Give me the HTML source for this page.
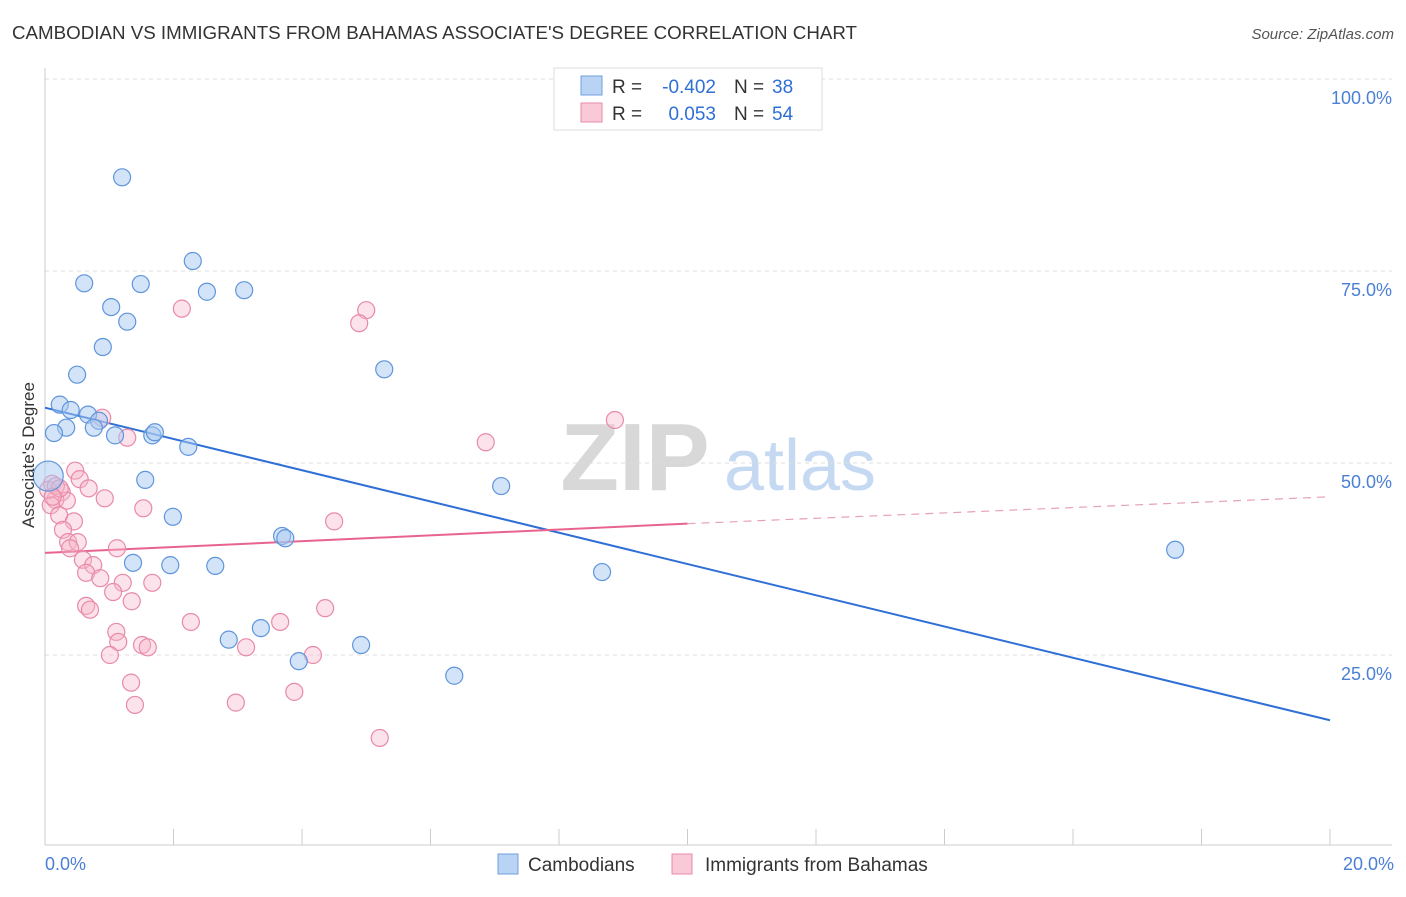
<!DOCTYPE html>
<html><head><meta charset="utf-8"><style>
body{margin:0;background:#fff;font-family:"Liberation Sans",sans-serif}
svg text{font-family:"Liberation Sans",sans-serif}
</style></head><body>
<svg id="chart" width="1406" height="892" viewBox="0 0 1406 892" xmlns="http://www.w3.org/2000/svg">
<text x="12" y="39" font-size="18" fill="#333" textLength="845" lengthAdjust="spacingAndGlyphs">CAMBODIAN VS IMMIGRANTS FROM BAHAMAS ASSOCIATE'S DEGREE CORRELATION CHART</text>
<text x="1394" y="39" font-size="15" fill="#555" text-anchor="end" font-style="italic">Source: ZipAtlas.com</text>
<g>
<text x="635" y="490" font-size="96" fill="#d8d8d8" text-anchor="middle" font-family="Liberation Serif,serif" font-weight="bold">ZIP</text>
<text x="800" y="490" font-size="72" fill="#c6d9f2" text-anchor="middle">atlas</text>
</g>
<g id="grid"></g><g id="axes"></g><g id="lines"></g><g id="points"></g>
<text transform="translate(34,455) rotate(-90)" font-size="17" fill="#333" text-anchor="middle">Associate's Degree</text>
<text x="45" y="870" font-size="18" fill="#4a7fd6">0.0%</text>
<text x="1394" y="870" font-size="18" fill="#4a7fd6" text-anchor="end">20.0%</text>
<g>
<rect x="554" y="68" width="268" height="62" fill="#fff" stroke="#ddd"/>
<rect x="581" y="76" width="21" height="19" fill="#b9d3f5" stroke="#6fa0e0"/>
<rect x="581" y="103" width="21" height="19" fill="#f9c9d8" stroke="#e88aa8"/>
<text x="612" y="93" font-size="19" fill="#333">R =</text>
<text x="716" y="93" font-size="19" fill="#2f6fd6" text-anchor="end">-0.402</text>
<text x="734" y="93" font-size="19" fill="#333">N =</text>
<text x="772" y="93" font-size="19" fill="#2f6fd6">38</text>
<text x="612" y="120" font-size="19" fill="#333">R =</text>
<text x="716" y="120" font-size="19" fill="#2f6fd6" text-anchor="end">0.053</text>
<text x="734" y="120" font-size="19" fill="#333">N =</text>
<text x="772" y="120" font-size="19" fill="#2f6fd6">54</text>
</g>
<g>
<rect x="498" y="854" width="20" height="20" fill="#b9d3f5" stroke="#6fa0e0"/>
<text x="528" y="871" font-size="19" fill="#333">Cambodians</text>
<rect x="672" y="854" width="20" height="20" fill="#f9c9d8" stroke="#e88aa8"/>
<text x="705" y="871" font-size="19" fill="#333">Immigrants from Bahamas</text>
</g>
</svg>
<script>
const yTicks=[25,50,75,100];
const yTickLabels=["25.0%","50.0%","75.0%","100.0%"];
const xTicks=[0,2,4,6,8,10,12,14,16,18,20];
const blueX=[1.20,2.30,0.61,1.49,2.52,3.10,1.03,1.28,0.90,0.50,5.28,0.23,0.40,0.67,0.84,0.76,0.33,0.14,1.09,1.67,1.71,2.23,0.05,1.56,7.10,1.99,3.69,3.74,1.37,1.95,2.65,8.67,17.59,2.86,3.36,4.92,3.95,6.37];
const blueY=[87.2,76.3,73.4,73.3,72.3,72.5,70.3,68.4,65.1,61.5,62.2,57.6,56.9,56.3,55.5,54.6,54.6,53.9,53.6,53.6,54.0,52.1,48.3,47.8,47.0,43.0,40.5,40.2,37.0,36.7,36.6,35.8,38.7,27.0,28.5,26.3,24.2,22.3];
const pinkX=[2.13,5.00,4.89,8.87,0.89,1.28,6.86,0.47,0.54,0.11,0.68,0.26,0.16,0.34,0.93,0.09,1.53,0.22,0.45,4.50,0.28,0.36,0.51,0.39,1.12,0.59,0.75,0.64,0.86,1.21,1.67,1.06,1.35,0.64,0.70,4.36,2.27,3.66,1.11,1.14,1.51,1.60,3.13,4.17,1.01,1.34,3.88,1.40,2.97,5.21,0.05,0.17,0.23,0.12];
const pinkY=[70.1,69.9,68.2,55.6,55.9,53.3,52.7,49.0,47.9,47.3,46.7,46.2,45.2,45.1,45.4,44.5,44.1,43.2,42.4,42.4,41.3,39.7,39.7,38.9,38.9,37.4,36.7,35.7,35.0,34.4,34.4,33.2,32.0,31.4,30.9,31.1,29.3,29.3,28.0,26.7,26.3,26.0,26.0,25.0,25.0,21.4,20.2,18.5,18.8,14.2,46.5,47.0,46.7,45.6];
const blueTrend=[57.2,16.5];
const pinkTrend=[38.3,42.1,45.6];
const NS="http://www.w3.org/2000/svg";
const X=v=>45+v*64.25, Y=v=>847-v*7.68;
function mk(tag,attrs,parent){const e=document.createElementNS(NS,tag);for(const k in attrs)e.setAttribute(k,attrs[k]);document.getElementById(parent).appendChild(e);return e;}
yTicks.forEach((t,i)=>{
 const l=mk('line',{x1:45,x2:1392,y1:Y(t),y2:Y(t),stroke:'#ddd','stroke-dasharray':'4,4'},'grid');
 
 
 const tx=mk('text',{x:1392,y:Y(t)+25,'font-size':18,fill:'#4a7fd6','text-anchor':'end'},'grid');
 tx.textContent=yTickLabels[i];
 
 
});
const ax=mk('line',{x1:45,x2:1392,y1:845,y2:845,stroke:'#ccc'},'axes');


const ay=mk('line',{x1:45,x2:45,y1:68,y2:845,stroke:'#ccc'},'axes');


xTicks.forEach(t=>{
 const l=mk('line',{x1:X(t),x2:X(t),y1:829,y2:845,stroke:'#ccc'},'axes');
 
 
});
function dots(xs,ys,fill,stroke,name,op){xs.forEach((x,i)=>{
 const c=mk('circle',{cx:X(x),cy:Y(ys[i]),r:(name==='cambodian-point'&&x<0.1)?15:8.5,fill:fill,'fill-opacity':op,stroke:stroke,'stroke-width':1.2},'points');
 
 
});}
dots(pinkX,pinkY,'#f7b6cb','#e88aa8','bahamas-point',0.4);
dots(blueX,blueY,'#a9c9f2','#5f95dc','cambodian-point',0.5);
const bl=mk('line',{x1:X(0),y1:Y(blueTrend[0]),x2:X(20),y2:Y(blueTrend[1]),stroke:'#2f6fd6','stroke-width':2},'lines');


const pl=mk('line',{x1:X(0),y1:Y(pinkTrend[0]),x2:X(10),y2:Y(pinkTrend[1]),stroke:'#e8648f','stroke-width':2},'lines');


const pd=mk('line',{x1:X(10),y1:Y(pinkTrend[1]),x2:X(20),y2:Y(pinkTrend[2]),stroke:'#e8a0b8','stroke-width':1.2,'stroke-dasharray':'8,6'},'lines');


</script>
</body></html>
